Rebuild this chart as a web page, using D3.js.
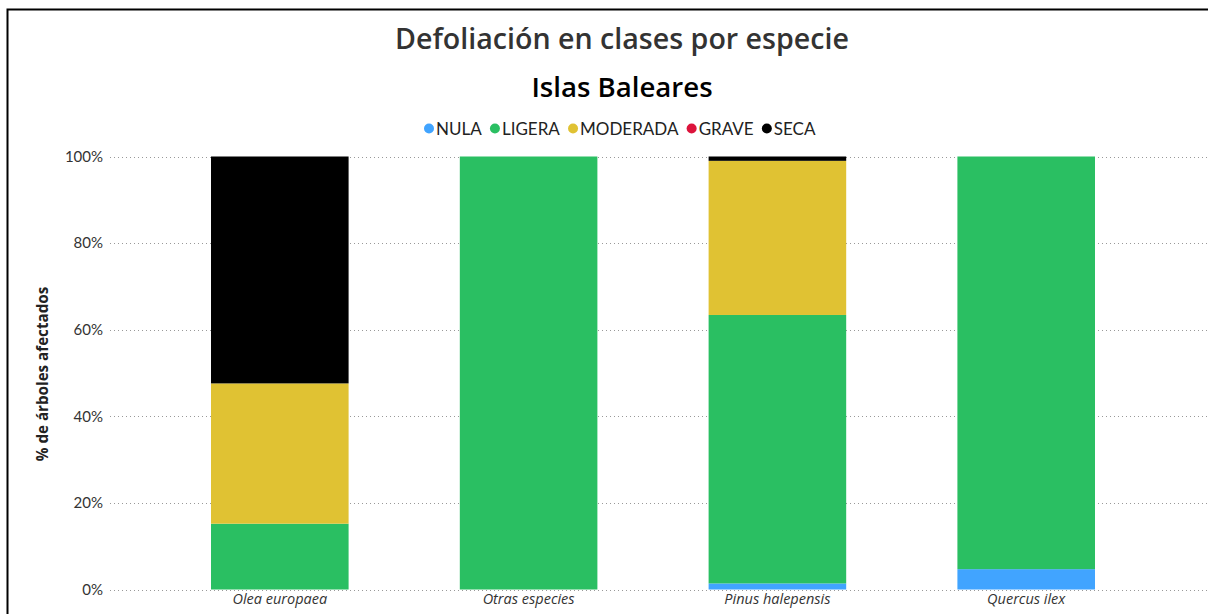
<!DOCTYPE html>
<html>
<head>
<meta charset="utf-8">
<script src="https://cdn.jsdelivr.net/npm/d3@7"></script>
<style>
html,body{margin:0;padding:0;background:#fff;}
svg{display:block;}
</style>
</head>
<body>
<svg id="chart" width="1208" height="614"></svg>
<script>
const categories = ["Olea europaea", "Otras especies", "Pinus halepensis", "Quercus ilex"];
const seriesNames = ["NULA", "LIGERA", "MODERADA", "GRAVE", "SECA"];
const NULA     = [0,    0,   1.4,  4.7];
const LIGERA   = [15.2, 100, 62.0, 95.3];
const MODERADA = [32.4, 0,   35.6, 0];
const GRAVE    = [0,    0,   0,    0];
const SECA     = [52.4, 0,   1.0,  0];
const yTicks = [0, 20, 40, 60, 80, 100];
const colors = ["#41A4FF", "#2ABF62", "#E0C233", "#DC143C", "#000000"];

const seriesValues = [NULA, LIGERA, MODERADA, GRAVE, SECA];
const rows = categories.map((c, i) => {
  const r = {cat: c};
  seriesNames.forEach((s, j) => r[s] = seriesValues[j][i]);
  return r;
});

const svg = d3.select("#chart");

// frame
svg.append("path").attr("d", "M7.5,1000 V9.5 H1300").attr("fill", "none").attr("stroke", "#000").attr("stroke-width", 2);

const x = d3.scaleBand().domain(categories).range([109, 1197]).paddingInner(0.447).paddingOuter(0.41);
const y = d3.scaleLinear().domain([0, 100]).range([589.5, 156.5]);

// grid
const grid = svg.append("g");
grid.selectAll("line").data(yTicks).join("line")
  .attr("x1", 110).attr("x2", 1208)
  .attr("y1", d => Math.round(y(d)) + 0.5).attr("y2", d => Math.round(y(d)) + 0.5)
  .attr("stroke", "#999").attr("stroke-width", 1).attr("stroke-dasharray", "1,3");

// y axis
const yAxis = d3.axisLeft(y).tickValues(yTicks).tickFormat(d => d + "%").tickSize(0).tickPadding(0);
const ya = svg.append("g").attr("transform", "translate(103,0)").call(yAxis);
ya.select(".domain").remove();
ya.selectAll("text").attr("font-family", "Lato, sans-serif").attr("font-size", 15).attr("fill", "#333");

// x axis
const xAxis = d3.axisBottom(x).tickSize(0).tickPadding(0);
const xa = svg.append("g").attr("transform", "translate(0,594)").call(xAxis);
xa.select(".domain").remove();
xa.selectAll("text").attr("font-family", "'Open Sans', sans-serif").attr("font-size", 14.5).attr("font-style", "italic").attr("fill", "#333");

// bars
const stack = d3.stack().keys(seriesNames);
const stacked = stack(rows);
svg.append("g").selectAll("g").data(stacked).join("g")
  .attr("fill", (d, i) => colors[i])
  .selectAll("rect").data(d => d).join("rect")
  .attr("x", d => x(d.data.cat))
  .attr("width", x.bandwidth())
  .attr("y", d => y(d[1]))
  .attr("height", d => Math.max(0, y(d[0]) - y(d[1])));

// titles
svg.append("text").attr("x", 622).attr("y", 49).attr("text-anchor", "middle")
  .attr("font-family", "'Open Sans', sans-serif").attr("font-weight", 600).attr("font-size", 28.6).attr("fill", "#333")
  .text("Defoliación en clases por especie");
svg.append("text").attr("x", 622).attr("y", 97).attr("text-anchor", "middle")
  .attr("font-family", "'Open Sans', sans-serif").attr("font-weight", 600).attr("font-size", 27.6).attr("fill", "#000")
  .text("Islas Baleares");

// y title
svg.append("text").attr("transform", "translate(48,374) rotate(-90)").attr("text-anchor", "middle")
  .attr("font-family", "'Open Sans', sans-serif").attr("font-weight", 700).attr("font-size", 15.2).attr("fill", "#222")
  .text("% de árboles afectados");

// legend
const lg = svg.append("g");
let lx = 424;
seriesNames.forEach((s, i) => {
  lg.append("circle").attr("cx", lx + 5).attr("cy", 128.5).attr("r", 5).attr("fill", colors[i]);
  const t = lg.append("text").attr("x", lx + 12).attr("y", 135)
    .attr("font-family", "Lato, sans-serif").attr("font-size", 17).attr("fill", "#222").text(s);
  const w = t.node().getComputedTextLength();
  lx += 12 + w + 8.2;
});
</script>
</body>
</html>
